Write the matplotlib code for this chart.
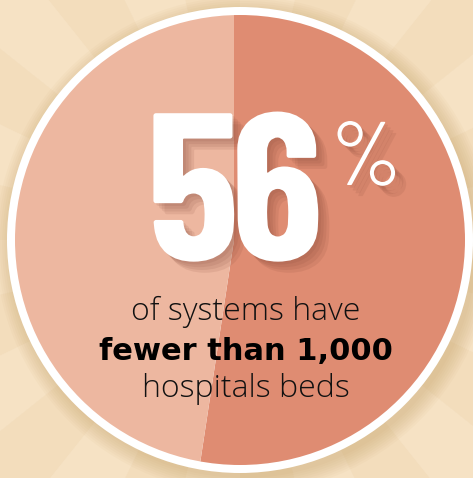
import numpy as np
import matplotlib
matplotlib.use('Agg')
import matplotlib.pyplot as plt
from matplotlib.patches import Circle, Wedge
import matplotlib.patheffects as pe

# datos del grafico
share_label = 56                   # valor impreso
slice_values = [52.4, 47.6]        # reparto tal como se ve dibujado
slice_colors = ['#DF8C72', '#EDB7A0']
lines = ['of systems have', 'fewer than 1,000', 'hospitals beds']

W, H = 473, 478
fig = plt.figure(figsize=(W / 100, H / 100), dpi=100)
fig.patch.set_facecolor('#F5E1C2')
ax = fig.add_axes([0, 0, 1, 1])

cx, cy, r = 240, 238, 225

# rayos del fondo (muy suaves)
n_rays = 28
for i in range(n_rays):
    a0 = i * 360 / n_rays
    col = '#F6E2C4' if i % 2 == 0 else '#F3DDBC'
    ax.add_patch(Wedge((cx, cy), 700, a0, a0 + 360 / n_rays, color=col, lw=0, zorder=0))

# sombra difusa del circulo
for k in range(8):
    ax.add_patch(Circle((cx + 4, cy - 5), r + 8 + k * 2.2, color='#B8904E',
                        alpha=0.045, lw=0, zorder=1))

ring = Circle((cx, cy), r + 8, facecolor='white', lw=0, zorder=2)
ax.add_patch(ring)

wedges, _ = ax.pie(slice_values, colors=slice_colors, startangle=90, counterclock=False,
                   center=(234, cy), radius=r + 20, wedgeprops=dict(lw=0))
clip = Circle((cx, cy), r, transform=ax.transData)
for w in wedges:
    w.set_zorder(3)
    w.set_clip_on(True)
    w.set_clip_path(clip)

shadow = [pe.SimplePatchShadow(offset=(k, -k), shadow_rgbFace='#7A3F30', alpha=0.11)
          for k in (2, 4, 6, 8)]
shadow.append(pe.Normal())

# cifras apretadas como en el original
digit_x = [193, 277]
for d, x in zip(str(share_label), digit_x):
    ax.text(x, H - 260, d, ha='center', va='baseline', color='white',
            fontsize=151, fontweight=700, family='Barlow Condensed',
            path_effects=shadow, zorder=5)
ax.text(331, H - 185, '%', ha='left', va='baseline', color='white',
        fontsize=65, fontweight=400, family='Barlow Condensed',
        path_effects=shadow, zorder=5)

ax.text(246, H - 320, lines[0], ha='center', va='baseline', color='#111111',
        fontsize=23, family='Open Sans', fontweight='light', zorder=5)
ax.text(246, H - 360, lines[1], ha='center', va='baseline', color='black',
        fontsize=22, family='DejaVu Sans', fontweight='bold', zorder=5)
ax.text(246, H - 397, lines[2], ha='center', va='baseline', color='#111111',
        fontsize=23, family='Open Sans', fontweight='light', zorder=5)

ax.set_xlim(0, W)
ax.set_ylim(0, H)
ax.set_aspect('equal')
ax.axis('off')

plt.savefig('out.png', dpi=100)
plt.close()
